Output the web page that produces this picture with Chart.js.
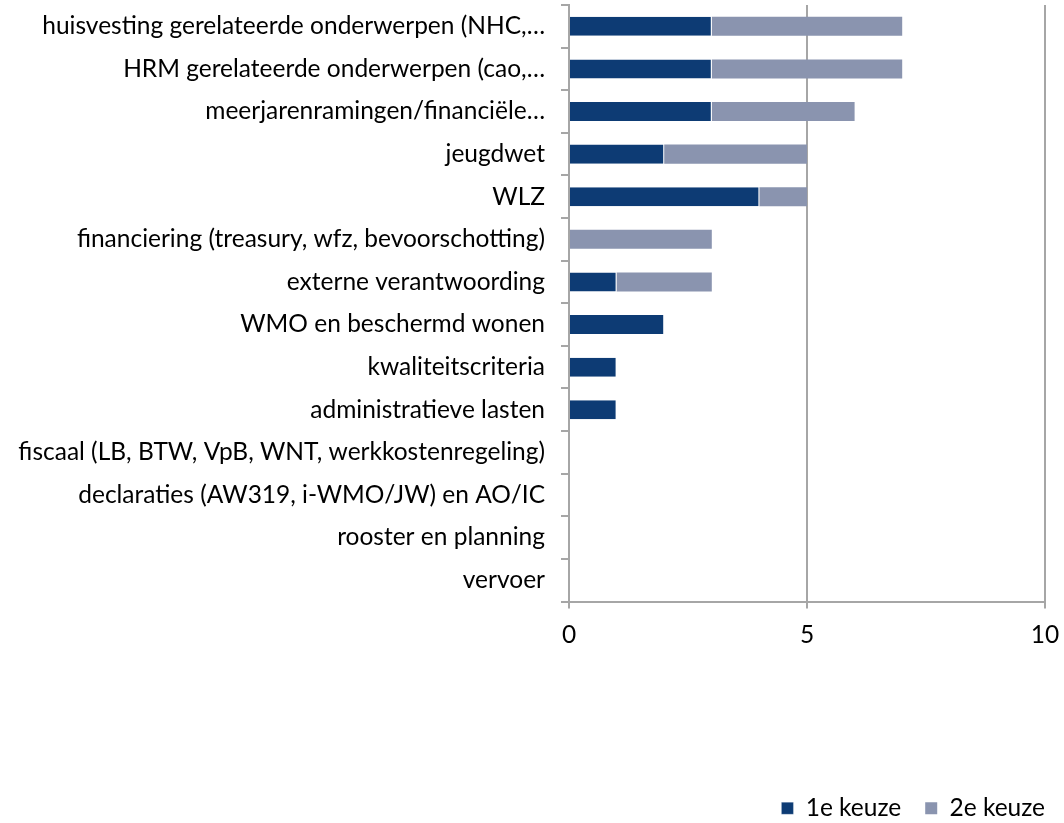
<!DOCTYPE html>
<html>
<head>
<meta charset="utf-8">
<script src="https://cdn.jsdelivr.net/npm/chart.js@4.4.0/dist/chart.umd.min.js"></script>
<style>
html,body{margin:0;padding:0;background:#fff;}
#wrap{width:1064px;height:823px;position:relative;}
</style>
</head>
<body>
<div id="wrap"><canvas id="c" width="1064" height="823"></canvas></div>
<script>
const categories = [
  "huisvesting gerelateerde onderwerpen (NHC,…",
  "HRM gerelateerde onderwerpen (cao,…",
  "meerjarenramingen/financiële…",
  "jeugdwet",
  "WLZ",
  "financiering (treasury, wfz, bevoorschotting)",
  "externe verantwoording",
  "WMO en beschermd wonen",
  "kwaliteitscriteria",
  "administratieve lasten",
  "fiscaal (LB, BTW, VpB, WNT, werkkostenregeling)",
  "declaraties (AW319, i-WMO/JW) en AO/IC",
  "rooster en planning",
  "vervoer"
];
const eersteKeuze = [3, 3, 3, 2, 4, 0, 1, 2, 1, 1, 0, 0, 0, 0];
const tweedeKeuze = [4, 4, 3, 3, 1, 3, 2, 0, 0, 0, 0, 0, 0, 0];
const xTicks = [0, 5, 10];

const FONT = "Lato, sans-serif";
const FS = 24.5;
Chart.defaults.font.family = FONT;
Chart.defaults.color = '#000';

new Chart(document.getElementById('c'), {
  type: 'bar',
  data: {
    labels: categories,
    datasets: [
      { label: '1e keuze', data: eersteKeuze, backgroundColor: '#0D3B74',
        borderColor: '#ffffff', borderWidth: {right: 1, left: 0, top: 0, bottom: 0}, borderSkipped: false,
        barPercentage: 0.446, categoryPercentage: 1.0 },
      { label: '2e keuze', data: tweedeKeuze, backgroundColor: '#8A94AF',
        borderWidth: 0,
        barPercentage: 0.446, categoryPercentage: 1.0 }
    ]
  },
  options: {
    indexAxis: 'y',
    responsive: false,
    animation: false,
    layout: { padding: { top: 5, right: -5, left: 0, bottom: -7.5 } },
    plugins: {
      legend: {
        position: 'bottom', align: 'end',
        labels: { boxWidth: 12, boxHeight: 12, padding: 24, font: { size: FS, family: FONT }, color: '#000' }
      },
      tooltip: { enabled: false }
    },
    scales: {
      x: {
        stacked: true, min: 0, max: 10,
        afterBuildTicks: (s) => { s.ticks = xTicks.map(v => ({ value: v })); },
        grid: { color: '#A6A6A6', lineWidth: 2, tickLength: 7, drawTicks: true },
        border: { color: '#A6A6A6', width: 2 },
        ticks: { font: { size: FS, family: FONT }, color: '#000', padding: 12 },
        afterFit: (s) => { s.height = 170.5; s.paddingLeft = 0; s.paddingRight = 19; }
      },
      y: {
        stacked: true,
        grid: { offset: true, drawOnChartArea: false, color: '#A6A6A6', lineWidth: 2, tickLength: 8 },
        border: { color: '#A6A6A6', width: 2 },
        ticks: { font: { size: FS, family: FONT }, color: '#000', padding: 16, autoSkip: false },
        afterFit: (s) => { s.width = 569; s.paddingTop = 0; s.paddingBottom = 0; }
      }
    }
  }
});
</script>
</body>
</html>
